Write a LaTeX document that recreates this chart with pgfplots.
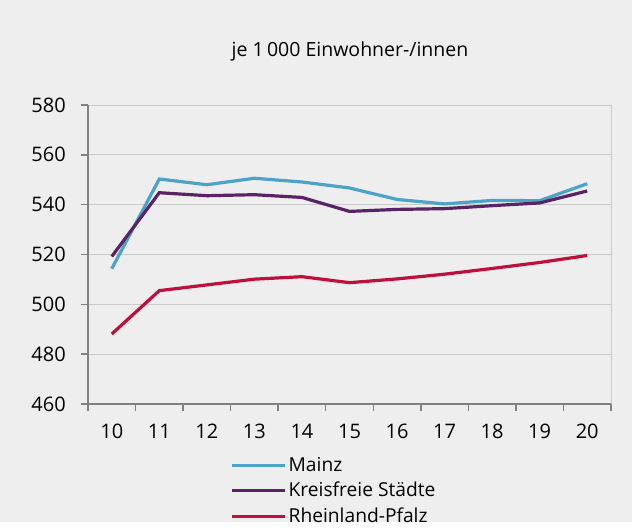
\documentclass[border=0pt]{standalone}
\usepackage{fontspec}
\setmainfont{Open Sans}
\usepackage{pgfplots}
\pgfplotsset{compat=1.18}
\definecolor{bg}{HTML}{EDEEED}
\definecolor{cMainz}{HTML}{4BA3C8}
\definecolor{cKS}{HTML}{5A2364}
\definecolor{cRP}{HTML}{C00F3C}
\definecolor{axgray}{HTML}{808080}
\definecolor{gridgray}{HTML}{CACBCA}
\pgfplotstableread{
x Mainz KS RP
10 514.3 519.2 488.1
11 550.3 544.8 505.5
12 548.0 543.6 507.8
13 550.6 544.0 510.1
14 549.1 542.9 511.1
15 546.7 537.3 508.7
16 542.1 538.1 510.2
17 540.3 538.4 512.1
18 541.7 539.6 514.4
19 541.6 540.7 516.8
20 548.4 545.5 519.6
}\datatable
\begin{document}
\fontsize{19.5pt}{22pt}\selectfont
\begin{tikzpicture}
\fill[bg] (0,0) rectangle (632pt,522pt);
\node[font=\fontsize{19.5pt}{22pt}\selectfont] at (350pt,471pt) {je 1\,000 Einwohner-/innen};
\begin{axis}[
  at={(88pt,118pt)}, anchor=south west,
  scale only axis, width=523pt, height=299pt,
  xmin=9.5, xmax=20.5, ymin=460, ymax=580,
  xtick={9.5,10.5,...,20.5},
  xticklabels={10,11,12,13,14,15,16,17,18,19,20},
  x tick label as interval,
  ytick={460,480,...,580},
  axis x line=bottom, axis y line=left,
  axis line style={-, draw=axgray, line width=1.5pt},
  tick style={draw=axgray, line width=1.5pt},
  tick align=outside, major tick length=6.5pt,
  ymajorgrids, grid style={draw=gridgray, line width=1pt},
  tick label style={font=\fontsize{20pt}{22pt}\selectfont},
  yticklabel style={xshift=-9pt},
  xticklabel style={yshift=-7pt},
  /pgf/number format/assume math mode=true,
  legend style={at={(rel axis cs:0.272,-0.170)}, anchor=north west, draw=none, fill=none,
    font=\fontsize{19.2pt}{22pt}\selectfont, row sep=4pt, inner sep=0pt},
  legend cell align=left,
  legend image code/.code={\draw[#1] (0pt,0pt) -- (53pt,0pt);},
  clip=false,
]
\draw[gridgray, line width=1pt] (rel axis cs:1,0) -- (rel axis cs:1,1);
\addplot[cMainz, line width=3.2pt] table[x=x, y=Mainz] {\datatable};
\addlegendentry{Mainz}
\addplot[cKS, line width=3.2pt] table[x=x, y=KS] {\datatable};
\addlegendentry{Kreisfreie Städte}
\addplot[cRP, line width=3.2pt] table[x=x, y=RP] {\datatable};
\addlegendentry{Rheinland-Pfalz}
\end{axis}
\end{tikzpicture}
\end{document}
